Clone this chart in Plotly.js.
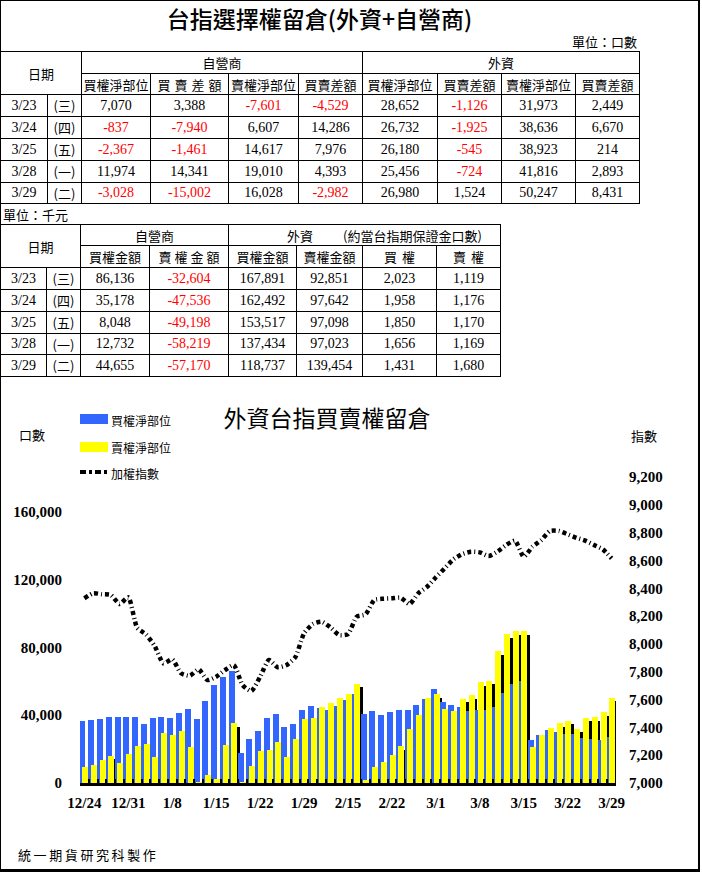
<!DOCTYPE html>
<html>
<head>
<meta charset="utf-8">
<script src="https://cdn.plot.ly/plotly-3.0.1.min.js"></script>
<style>
html,body{margin:0;padding:0;background:#fff;}
#page{position:relative;width:702px;height:874px;overflow:hidden;background:#fff;}
#chart{position:absolute;left:0;top:0;width:702px;height:874px;}
#frame{position:absolute;left:0;top:0;width:697px;height:868px;border-left:1px solid #000;border-top:1px solid #000;border-right:2px solid #000;border-bottom:3px solid #000;pointer-events:none;}
.t{position:absolute;left:0;border-collapse:collapse;table-layout:fixed;font-family:"Liberation Serif","Noto Sans CJK TC",serif;font-size:14px;color:#000;background:#fff;}
.t td{border:1px solid #000;padding:0;text-align:center;white-space:nowrap;overflow:hidden;line-height:1;}
.t td.cjk{font-family:"Noto Sans CJK TC",sans-serif;font-size:13px;}
.t td.neg{color:#ff0000;}
.lbl{position:absolute;font-family:"Noto Sans CJK TC",sans-serif;font-size:13px;line-height:18px;color:#000;white-space:nowrap;}
</style>
</head>
<body>
<div id="page">
  <div id="chart"></div>
  <div class="lbl" style="left:0;width:639px;top:4px;text-align:center;font-size:23px;line-height:28px;font-weight:500;">台指選擇權留倉(外資+自營商)</div>
  <div class="lbl" style="right:65px;top:33px;">單位：口數</div>
  <table class="t" id="t1" style="top:51px;width:639px;"></table>
  <div class="lbl" style="left:3px;top:206px;">單位：千元</div>
  <table class="t" id="t2" style="top:224px;width:500px;"></table>
  <div class="lbl" style="left:18px;top:846px;letter-spacing:2.6px;font-size:13px;">統一期貨研究科製作</div>
  <div id="frame"></div>
</div>
<script>
// ---------- table data ----------
const tblDates = ['3/23','3/24','3/25','3/28','3/29'];
const tblWeekdays = ['(三)','(四)','(五)','(一)','(二)'];
const dealerCallNet = [7070,-837,-2367,11974,-3028];
const dealerCallDiff = [3388,-7940,-1461,14341,-15002];
const dealerPutNet = [-7601,6607,14617,19010,16028];
const dealerPutDiff = [-4529,14286,7976,4393,-2982];
const foreignCallNet = [28652,26732,26180,25456,26980];
const foreignCallDiff = [-1126,-1925,-545,-724,1524];
const foreignPutNet = [31973,38636,38923,41816,50247];
const foreignPutDiff = [2449,6670,214,2893,8431];

const dealerCallAmt = [86136,35178,8048,12732,44655];
const dealerPutAmt = [-32604,-47536,-49198,-58219,-57170];
const foreignCallAmt = [167891,162492,153517,137434,118737];
const foreignPutAmt = [92851,97642,97098,97023,139454];
const foreignCallLots = [2023,1958,1850,1656,1431];
const foreignPutLots = [1119,1176,1170,1169,1680];

const t1Headers = ['買權淨部位','買賣差額','賣權淨部位','買賣差額','買權淨部位','買賣差額','賣權淨部位','買賣差額'];
const t2Headers = ['買權金額','賣權金額','買權金額','賣權金額','買權','賣權'];

// ---------- chart data ----------
const chartDates = ['12/24','12/25','12/28','12/29','12/30','12/31','1/4','1/5','1/6','1/7','1/8','1/11','1/12','1/13','1/14','1/15','1/18','1/19','1/20','1/21','1/22','1/25','1/26','1/27','1/28','1/29','2/1','2/2','2/3','2/4','2/15','2/16','2/17','2/18','2/19','2/22','2/23','2/24','2/25','2/26','3/1','3/2','3/3','3/4','3/7','3/8','3/9','3/10','3/11','3/14','3/15','3/16','3/17','3/18','3/21','3/22','3/23','3/24','3/25','3/28','3/29'];
const callNetSeries = [36400,37000,37600,38700,38700,39200,38700,34600,38200,38700,38200,41300,43500,37600,48200,57800,62500,66300,17500,25800,30900,38600,40500,33200,35000,43300,45600,44100,43000,45500,49000,52500,40700,42700,39900,41700,42900,42900,45800,49400,55700,47600,46200,44800,42300,43300,42900,44800,53100,58400,60000,25600,28500,31100,29900,29100,28652,26732,26180,25456,26980];
const putNetSeries = [9600,10800,13400,16100,12000,16900,21600,23200,15500,29300,28500,30500,21400,800,4500,2400,22200,35200,500,9800,18700,19200,24000,15100,26200,38000,38600,45100,47000,50400,52300,58600,1500,9200,12200,16300,21600,31700,40300,50000,52300,43900,42300,49800,51700,59400,60400,77700,87900,89500,89500,21400,28100,32400,35400,36800,31973,38636,38923,41816,50247];
const taiexSeries = [8328,8364,8357,8352,8287,8335,8117,8069,7985,7860,7889,7789,7771,7817,7740,7764,7812,7848,7705,7661,7764,7884,7832,7848,7904,8076,8143,8160,8119,8064,8071,8196,8213,8316,8325,8328,8332,8287,8364,8411,8479,8543,8608,8646,8663,8658,8632,8663,8711,8742,8627,8699,8747,8812,8812,8788,8763,8742,8711,8680,8615];
const leftTicks = [0,40000,80000,120000,160000];
const rightTicks = [7000,7200,7400,7600,7800,8000,8200,8400,8600,8800,9000,9200];
const seriesNames = ['買權淨部位','賣權淨部位','加權指數'];

// ---------- tables ----------
function fmt(v){return v.toLocaleString('en-US');}
function numCell(v){return '<td class="'+(v<0?'neg':'')+'">'+fmt(v)+'</td>';}
function colgroup(ws){return '<colgroup>'+ws.map(w=>'<col style="width:'+w+'px">').join('')+'</colgroup>';}

(function(){
  let h = colgroup([47,34,69,78,70,64,75,64,74,64]);
  h += '<tr style="height:22px"><td class="cjk" colspan="2" rowspan="2">日期</td><td class="cjk" colspan="4">自營商</td><td class="cjk" colspan="4">外資</td></tr>';
  h += '<tr style="height:21px">'+t1Headers.map((s,i)=>'<td class="cjk"'+(i===1?' style="letter-spacing:4px;padding-left:4px"':'')+'>'+s+'</td>').join('')+'</tr>';
  for(let i=0;i<tblDates.length;i++){
    h += '<tr style="height:'+(i===4?21:22)+'px"><td>'+tblDates[i]+'</td><td class="cjk">'+tblWeekdays[i]+'</td>'+
      numCell(dealerCallNet[i])+numCell(dealerCallDiff[i])+numCell(dealerPutNet[i])+numCell(dealerPutDiff[i])+
      numCell(foreignCallNet[i])+numCell(foreignCallDiff[i])+numCell(foreignPutNet[i])+numCell(foreignPutDiff[i])+'</tr>';
  }
  document.getElementById('t1').innerHTML = h;

  let g = colgroup([46,34,69,79,68,66,74,64]);
  g += '<tr style="height:21px"><td class="cjk" colspan="2" rowspan="2">日期</td><td class="cjk" colspan="2">自營商</td><td class="cjk" colspan="4" style="text-align:left;padding-left:58px">外資<span style="display:inline-block;width:30px"></span>(約當台指期保證金口數)</td></tr>';
  g += '<tr style="height:22px">'+t2Headers.map((s,i)=>'<td class="cjk"'+(i===1?' style="letter-spacing:3px;padding-left:3px"':(i>=4?' style="letter-spacing:5px;padding-left:5px"':''))+'>'+s+'</td>').join('')+'</tr>';
  for(let i=0;i<tblDates.length;i++){
    g += '<tr style="height:'+(i===3?21:22)+'px"><td>'+tblDates[i]+'</td><td class="cjk">'+tblWeekdays[i]+'</td>'+
      numCell(dealerCallAmt[i])+numCell(dealerPutAmt[i])+numCell(foreignCallAmt[i])+numCell(foreignPutAmt[i])+
      numCell(foreignCallLots[i])+numCell(foreignPutLots[i])+'</tr>';
  }
  document.getElementById('t2').innerHTML = g;
})();

// ---------- chart ----------
const PL=80, PR=616, PT=477, PB=783;
const LMAX = 180650;
const SHIFT = 2070; // shadow drop
const px2x = px => (px-PL)/(PR-PL);
const py2y = py => (PB-py)/(PB-PT);
const BLUE='#3366FF', YEL='#FFFF00';
const tickFont = {family:'Liberation Serif', size:15, color:'#000', weight:'bold'};
const cjkFont = {family:'Noto Sans CJK TC', size:12, color:'#000'};

const traces = [
  {type:'bar', x:chartDates, y:putNetSeries, xaxis:'x', yaxis:'y', marker:{color:'#000', line:{width:0}}, width:0.683, offset:0.05, hoverinfo:'skip', showlegend:false},
  {type:'bar', name:seriesNames[0], x:chartDates, y:callNetSeries, xaxis:'x', yaxis:'y2', marker:{color:BLUE, line:{width:0}}, width:0.683, offset:-0.57},
  {type:'bar', name:seriesNames[1], x:chartDates, y:putNetSeries, xaxis:'x', yaxis:'y2', marker:{color:YEL, line:{width:0}}, width:0.683, offset:-0.262},
  {type:'scatter', mode:'lines', name:seriesNames[2], x:chartDates, y:taiexSeries, xaxis:'x', yaxis:'y3', line:{color:'#000', width:4.5, dash:'4px,3px,1px,3px', shape:'spline', smoothing:0.6}}
];

const layout = {
  width:702, height:874,
  margin:{l:PL, r:702-PR, t:PT, b:874-PB, pad:0},
  paper_bgcolor:'rgba(0,0,0,0)', plot_bgcolor:'rgba(0,0,0,0)',
  showlegend:false, barmode:'overlay', bargap:0,
  title:{text:'外資台指買賣權留倉', font:{family:'Noto Sans CJK TC', size:23, color:'#000'}, xref:'container', yref:'container', x:327/702, y:1-419/874, xanchor:'center', yanchor:'middle'},
  xaxis:{type:'category', range:[-0.5, chartDates.length-0.5], tickvals:chartDates, ticktext:chartDates.map((d,i)=> i%5===0 ? d : ''),
    ticks:'inside', ticklen:4, tickwidth:2, tickcolor:'#000', tickson:'boundaries', showline:true, linewidth:3, linecolor:'#000',
    tickfont:tickFont, tickangle:0, ticklabelstandoff:4, showgrid:false, zeroline:false, fixedrange:true},
  yaxis:{range:[SHIFT, LMAX+SHIFT], visible:false, showgrid:false, zeroline:false, fixedrange:true},
  yaxis2:{overlaying:'y', side:'left', range:[0, LMAX], tickvals:leftTicks, tickformat:',', ticks:'', showline:false, showgrid:false, zeroline:false,
    tickfont:tickFont, ticklabelstandoff:17, fixedrange:true},
  yaxis3:{overlaying:'y', side:'right', range:[7000, 9200], tickvals:rightTicks, tickformat:',', ticks:'', showline:false, showgrid:false, zeroline:false,
    tickfont:tickFont, ticklabelstandoff:12, fixedrange:true},
  shapes:[
    {type:'rect', xref:'paper', yref:'paper', x0:px2x(80), x1:px2x(108), y0:py2y(424), y1:py2y(414), fillcolor:BLUE, line:{width:0}},
    {type:'rect', xref:'paper', yref:'paper', x0:px2x(80), x1:px2x(108), y0:py2y(452), y1:py2y(442), fillcolor:YEL, line:{width:0}},
    {type:'line', xref:'paper', yref:'paper', x0:px2x(80), x1:px2x(108), y0:py2y(472), y1:py2y(472), line:{color:'#000', width:4, dash:'6px,3px,3px,3px'}}
  ],
  annotations:[
    {text:seriesNames[0], xref:'paper', yref:'paper', x:px2x(109), y:py2y(420), xanchor:'left', yanchor:'middle', showarrow:false, font:cjkFont},
    {text:seriesNames[1], xref:'paper', yref:'paper', x:px2x(109), y:py2y(447), xanchor:'left', yanchor:'middle', showarrow:false, font:cjkFont},
    {text:seriesNames[2], xref:'paper', yref:'paper', x:px2x(109), y:py2y(473), xanchor:'left', yanchor:'middle', showarrow:false, font:cjkFont},
    {text:'口數', xref:'paper', yref:'paper', x:px2x(32), y:py2y(434), xanchor:'center', yanchor:'middle', showarrow:false, font:{family:'Noto Sans CJK TC', size:13, color:'#000'}},
    {text:'指數', xref:'paper', yref:'paper', x:px2x(644), y:py2y(435), xanchor:'center', yanchor:'middle', showarrow:false, font:{family:'Noto Sans CJK TC', size:13, color:'#000'}}
  ]
};

Plotly.newPlot('chart', traces, layout, {staticPlot:true, displayModeBar:false});
</script>
</body>
</html>
